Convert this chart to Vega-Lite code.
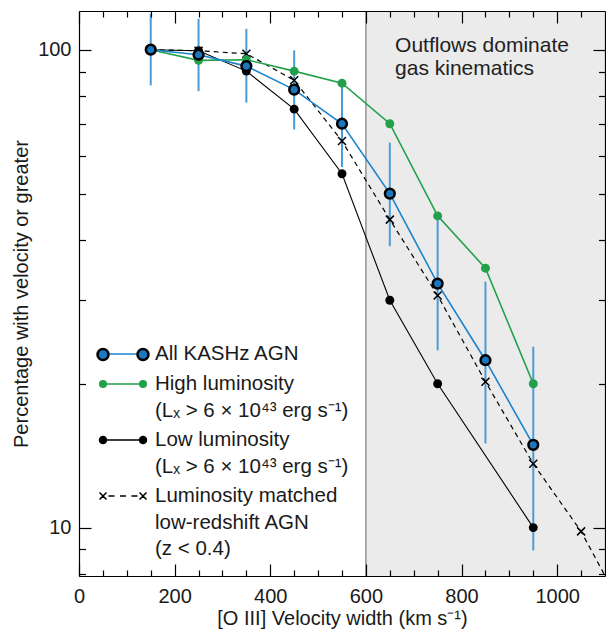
{
  "$schema": "https://vega.github.io/schema/vega-lite/v6.json",
  "width": 526,
  "height": 565,
  "autosize": {"type": "none"},
  "padding": {"left": 79, "top": 11, "right": 1, "bottom": 56},
  "config": {
    "view": {"stroke": null},
    "font": "Liberation Sans",
    "style": {"guide-label": {"lineHeight": 26.5}},
    "axis": {
      "grid": false,
      "labelFont": "Liberation Sans",
      "labelFontSize": 20,
      "labelColor": "#1a1a1a",
      "titleFont": "Liberation Sans",
      "titleFontSize": 20,
      "titleFontWeight": "normal",
      "titleColor": "#1a1a1a",
      "tickColor": "#000000",
      "tickWidth": 1.2,
      "domainColor": "#000000",
      "domainWidth": 1.2
    }
  },
  "datasets": {
    "pts": [
      {"series": "all", "vel": 150, "pct": 100, "lo": 84.2, "hi": 118.9},
      {"series": "all", "vel": 250, "pct": 97.6, "lo": 81.9, "hi": 116.1},
      {"series": "all", "vel": 350, "pct": 92.4, "lo": 77.5, "hi": 110.6},
      {"series": "all", "vel": 450, "pct": 82.5, "lo": 68.1, "hi": 99.7},
      {"series": "all", "vel": 550, "pct": 70.0, "lo": 56.8, "hi": 85.1},
      {"series": "all", "vel": 650, "pct": 50.0, "lo": 38.8, "hi": 63.9},
      {"series": "all", "vel": 750, "pct": 32.4, "lo": 23.5, "hi": 44.9},
      {"series": "all", "vel": 850, "pct": 22.4, "lo": 15.0, "hi": 32.7},
      {"series": "all", "vel": 950, "pct": 14.9, "lo": 8.96, "hi": 23.9},
      {"series": "high", "vel": 150, "pct": 100},
      {"series": "high", "vel": 250, "pct": 95.0},
      {"series": "high", "vel": 350, "pct": 95.3},
      {"series": "high", "vel": 450, "pct": 90.2},
      {"series": "high", "vel": 550, "pct": 85.1},
      {"series": "high", "vel": 650, "pct": 70.0},
      {"series": "high", "vel": 750, "pct": 44.9},
      {"series": "high", "vel": 850, "pct": 34.9},
      {"series": "high", "vel": 950, "pct": 20.0},
      {"series": "low", "vel": 150, "pct": 100},
      {"series": "low", "vel": 250, "pct": 99.5},
      {"series": "low", "vel": 350, "pct": 90.2},
      {"series": "low", "vel": 450, "pct": 75.1},
      {"series": "low", "vel": 550, "pct": 55.0},
      {"series": "low", "vel": 650, "pct": 29.9},
      {"series": "low", "vel": 750, "pct": 20.0},
      {"series": "low", "vel": 950, "pct": 10.0},
      {"series": "matched", "vel": 150, "pct": 100},
      {"series": "matched", "vel": 250, "pct": 99.5},
      {"series": "matched", "vel": 350, "pct": 98.1},
      {"series": "matched", "vel": 450, "pct": 86.3},
      {"series": "matched", "vel": 550, "pct": 64.4},
      {"series": "matched", "vel": 650, "pct": 44.1},
      {"series": "matched", "vel": 750, "pct": 30.6},
      {"series": "matched", "vel": 850, "pct": 20.2},
      {"series": "matched", "vel": 950, "pct": 13.6},
      {"series": "matched", "vel": 1050, "pct": 9.82},
      {"series": "matched", "vel": 1150, "pct": 6.4}
    ]
  },
  "data": {"name": "pts"},
  "layer": [
    {
      "data": {"values": [{}]},
      "mark": {"type": "rect", "color": "#ebebeb"},
      "encoding": {
        "x": {"datum": 600, "type": "quantitative", "scale": {"domain": [0, 1100], "nice": false, "zero": false}, "axis": null},
        "x2": {"datum": 1100}
      }
    },
    {
      "data": {"values": [{}]},
      "mark": {"type": "rule", "color": "#9a9a9a", "strokeWidth": 1.6},
      "encoding": {
        "x": {"datum": 600, "type": "quantitative", "axis": null}
      }
    },
    {
      "transform": [{"filter": "datum.series === 'all'"}],
      "mark": {"type": "rule", "color": "#4a9bd6", "strokeWidth": 2, "clip": true},
      "encoding": {
        "x": {"field": "vel", "type": "quantitative", "scale": {"domain": [0, 1100], "nice": false, "zero": false},
          "axis": {"orient": "bottom", "values": [0, 200, 400, 600, 800, 1000], "format": "d", "tickSize": -12, "labelPadding": 22, "labelFlush": false, "labelOverlap": false, "title": "[O III] Velocity width (km s⁻¹)", "titlePadding": 2, "domain": true, "zindex": 1}},
        "y": {"field": "lo", "type": "quantitative", "scale": {"type": "log", "domain": [7.92, 120.5], "nice": false},
          "axis": {"orient": "left", "values": [10, 100], "format": "d", "tickSize": -12, "labelPadding": 20, "title": "Percentage with velocity or greater", "titlePadding": 6, "domain": true, "zindex": 1}},
        "y2": {"field": "hi"}
      }
    },
    {
      "transform": [{"filter": "datum.series === 'low'"}],
      "mark": {"type": "line", "color": "#000000", "strokeWidth": 1.1, "clip": true},
      "encoding": {
        "x": {"field": "vel", "type": "quantitative", "axis": {"orient": "bottom", "values": [50, 100, 150, 250, 300, 350, 450, 500, 550, 650, 700, 750, 850, 900, 950, 1050], "tickSize": -6, "labels": false, "title": null, "domain": false, "zindex": 1}},
        "y": {"field": "pct", "type": "quantitative", "axis": {"orient": "left", "values": [8, 9, 20, 30, 40, 50, 60, 70, 80, 90], "tickSize": -6.5, "labels": false, "title": null, "domain": false, "zindex": 1}}
      }
    },
    {
      "transform": [{"filter": "datum.series === 'matched'"}],
      "mark": {"type": "line", "color": "#000000", "strokeWidth": 1.2, "strokeDash": [5, 4], "clip": true},
      "encoding": {
        "x": {"field": "vel", "type": "quantitative", "axis": {"orient": "top", "values": [0, 200, 400, 600, 800, 1000], "tickSize": -12, "labels": false, "title": null, "domain": true, "zindex": 1}},
        "y": {"field": "pct", "type": "quantitative", "axis": {"orient": "right", "values": [10, 100], "tickSize": -12, "labels": false, "title": null, "domain": true, "zindex": 1}}
      }
    },
    {
      "transform": [{"filter": "datum.series === 'high'"}],
      "mark": {"type": "line", "color": "#22a04b", "strokeWidth": 1.6, "clip": true},
      "encoding": {
        "x": {"field": "vel", "type": "quantitative", "axis": {"orient": "top", "values": [50, 100, 150, 250, 300, 350, 450, 500, 550, 650, 700, 750, 850, 900, 950, 1050], "tickSize": -6, "labels": false, "title": null, "domain": false, "zindex": 1}},
        "y": {"field": "pct", "type": "quantitative", "axis": {"orient": "right", "values": [8, 9, 20, 30, 40, 50, 60, 70, 80, 90], "tickSize": -6.5, "labels": false, "title": null, "domain": false, "zindex": 1}}
      }
    },
    {
      "transform": [{"filter": "datum.series === 'all'"}],
      "mark": {"type": "line", "color": "#1b84cc", "strokeWidth": 1.6, "clip": true},
      "encoding": {
        "x": {"field": "vel", "type": "quantitative", "axis": null},
        "y": {"field": "pct", "type": "quantitative", "axis": null}
      }
    },
    {
      "transform": [{"filter": "datum.series === 'low'"}],
      "mark": {"type": "circle", "color": "#000000", "size": 80, "opacity": 1, "clip": true},
      "encoding": {
        "x": {"field": "vel", "type": "quantitative", "axis": null},
        "y": {"field": "pct", "type": "quantitative", "axis": null}
      }
    },
    {
      "transform": [{"filter": "datum.series === 'matched' && datum.vel < 1100"}],
      "mark": {"type": "point", "shape": "M-1,-1L1,1M-1,1L1,-1", "filled": false, "stroke": "#000000", "strokeWidth": 1.5, "size": 64, "opacity": 1, "clip": true},
      "encoding": {
        "x": {"field": "vel", "type": "quantitative", "axis": null},
        "y": {"field": "pct", "type": "quantitative", "axis": null}
      }
    },
    {
      "transform": [{"filter": "datum.series === 'high'"}],
      "mark": {"type": "circle", "color": "#22a04b", "size": 80, "opacity": 1, "clip": true},
      "encoding": {
        "x": {"field": "vel", "type": "quantitative", "axis": null},
        "y": {"field": "pct", "type": "quantitative", "axis": null}
      }
    },
    {
      "transform": [{"filter": "datum.series === 'all'"}],
      "mark": {"type": "circle", "fill": "#1b78c0", "stroke": "#000000", "strokeWidth": 2.5, "size": 95, "opacity": 1, "fillOpacity": 1, "clip": true},
      "encoding": {
        "x": {"field": "vel", "type": "quantitative", "axis": null},
        "y": {"field": "pct", "type": "quantitative", "axis": null}
      }
    },
    {
      "data": {"values": [{}]},
      "mark": {"type": "text", "text": ["Outflows dominate", "gas kinematics"], "align": "left", "baseline": "alphabetic", "font": "Liberation Sans", "fontSize": 21, "lineHeight": 23.5, "color": "#222222"},
      "encoding": {
        "x": {"datum": 661, "type": "quantitative", "axis": null},
        "y": {"datum": 98.9, "type": "quantitative", "axis": null}
      }
    },
    {
      "mark": {"type": "point", "opacity": 0},
      "encoding": {
        "x": {"field": "vel", "type": "quantitative", "axis": null},
        "y": {"field": "pct", "type": "quantitative", "axis": null},
        "shape": {
          "field": "series", "type": "nominal",
          "scale": {"domain": ["all", "high", "low", "matched"], "range": [
            "M-1.45,0H1.45",
            "M-2,0H2M-1.67,0A0.33,0.33,0,1,1,-2.33,0A0.33,0.33,0,1,1,-1.67,0ZM2.33,0A0.33,0.33,0,1,1,1.67,0A0.33,0.33,0,1,1,2.33,0Z",
            "M-2,0H2M-1.65,0A0.35,0.35,0,1,1,-2.35,0A0.35,0.35,0,1,1,-1.65,0ZM2.35,0A0.35,0.35,0,1,1,1.65,0A0.35,0.35,0,1,1,2.35,0Z",
            "M-2.35,-0.35L-1.65,0.35M-2.35,0.35L-1.65,-0.35M1.65,-0.35L2.35,0.35M1.65,0.35L2.35,-0.35M-1.45,0H-0.85M-0.3,0H0.3M0.85,0H1.45"
          ]},
          "legend": {
            "orient": "none", "legendX": 23, "legendY": 332, "title": null, "padding": 0,
            "symbolSize": 400, "symbolStrokeWidth": 1.5, "symbolOffset": 10, "symbolOpacity": 1,
            "labelOffset": 21, "labelFont": "Liberation Sans", "labelFontSize": 20.5, "labelColor": "#1a1a1a", "labelLimit": 0, "labelBaseline": "middle",
            "rowPadding": 8,
            "labelExpr": "datum.value === 'all' ? 'All KASHz AGN' : datum.value === 'high' ? ['High luminosity', '(Lₓ > 6 × 10⁴³ erg s⁻¹)'] : datum.value === 'low' ? ['Low luminosity', '(Lₓ > 6 × 10⁴³ erg s⁻¹)'] : ['Luminosity matched', 'low-redshift AGN', '(z < 0.4)']"
          }
        },
        "fill": {
          "field": "series", "type": "nominal",
          "scale": {"domain": ["all", "high", "low", "matched"], "range": ["transparent", "#22a04b", "#000000", "transparent"]}
        },
        "stroke": {
          "field": "series", "type": "nominal",
          "scale": {"domain": ["all", "high", "low", "matched"], "range": ["#1b84cc", "#22a04b", "#000000", "#000000"]}
        }
      }
    },
    {
      "mark": {"type": "point", "opacity": 0},
      "encoding": {
        "x": {"field": "vel", "type": "quantitative", "axis": null},
        "y": {"field": "pct", "type": "quantitative", "axis": null},
        "shape": {
          "field": "series", "type": "nominal",
          "scale": {"domain": ["all", "high", "low", "matched"], "range": [
            "M-1.45,0A0.55,0.55,0,1,1,-2.55,0A0.55,0.55,0,1,1,-1.45,0ZM2.55,0A0.55,0.55,0,1,1,1.45,0A0.55,0.55,0,1,1,2.55,0Z",
            "circle", "circle", "circle"
          ]},
          "legend": {
            "orient": "none", "legendX": 23, "legendY": 332, "title": null, "padding": 0,
            "symbolSize": 400, "symbolStrokeWidth": 2.5, "symbolOffset": 9.5, "symbolOpacity": 1,
            "labelOffset": 21, "labelFont": "Liberation Sans", "labelFontSize": 20.5, "labelColor": "#1a1a1a", "labelLimit": 0, "labelBaseline": "middle", "labelOpacity": 0,
            "rowPadding": 8,
            "labelExpr": "''"
          }
        },
        "fill": {
          "field": "series", "type": "nominal",
          "scale": {"domain": ["all", "high", "low", "matched"], "range": ["#1b78c0", "transparent", "transparent", "transparent"]}
        },
        "stroke": {
          "field": "series", "type": "nominal",
          "scale": {"domain": ["all", "high", "low", "matched"], "range": ["#000000", "transparent", "transparent", "transparent"]}
        }
      }
    }
  ],
  "resolve": {
    "axis": {"x": "independent", "y": "independent"},
    "scale": {"shape": "independent", "fill": "independent", "stroke": "independent"}
  }
}
